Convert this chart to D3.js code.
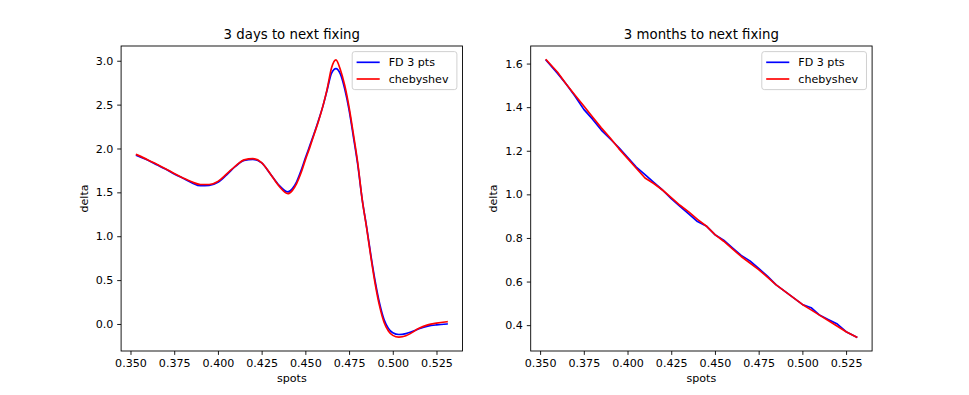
<!DOCTYPE html>
<html>
<head>
<meta charset="utf-8">
<script src="https://cdn.jsdelivr.net/npm/d3@7"></script>
<style>
  body { margin: 0; background: #fff; }
  svg { display: block; font-family: "DejaVu Sans", sans-serif; }
</style>
</head>
<body>
<svg id="chart" width="969" height="395"></svg>
<script>
// spots / delta
var spotsLeft = [0.3535, 0.36, 0.365, 0.37, 0.375, 0.38, 0.385, 0.39, 0.395, 0.40, 0.405, 0.41, 0.415, 0.42, 0.425, 0.43, 0.435, 0.44, 0.4425, 0.445, 0.4475, 0.45, 0.4525, 0.455, 0.4575, 0.46, 0.4625, 0.465, 0.4675, 0.47, 0.4725, 0.475, 0.4775, 0.48, 0.4825, 0.485, 0.4875, 0.49, 0.4925, 0.495, 0.4975, 0.50, 0.5035, 0.5075, 0.51, 0.515, 0.52, 0.525, 0.531];
var fdLeft = [1.92, 1.865, 1.815, 1.765, 1.71, 1.66, 1.61, 1.575, 1.58, 1.615, 1.70, 1.795, 1.865, 1.875, 1.835, 1.71, 1.58, 1.505, 1.54, 1.62, 1.745, 1.89, 2.03, 2.17, 2.32, 2.48, 2.67, 2.86, 2.91, 2.85, 2.68, 2.44, 2.13, 1.81, 1.42, 1.11, 0.78, 0.48, 0.23, 0.05, -0.05, -0.10, -0.12, -0.11, -0.095, -0.055, -0.025, -0.01, 0.0];
var chebLeft = [1.93, 1.87, 1.82, 1.77, 1.715, 1.665, 1.62, 1.59, 1.59, 1.625, 1.71, 1.80, 1.87, 1.885, 1.84, 1.71, 1.57, 1.485, 1.52, 1.60, 1.72, 1.87, 2.01, 2.16, 2.31, 2.48, 2.68, 2.92, 3.01, 2.90, 2.72, 2.47, 2.16, 1.83, 1.42, 1.10, 0.76, 0.45, 0.20, 0.02, -0.08, -0.13, -0.15, -0.135, -0.11, -0.05, -0.01, 0.01, 0.025];

var spotsRight = [0.3535, 0.36, 0.365, 0.37, 0.375, 0.38, 0.385, 0.39, 0.395, 0.40, 0.405, 0.41, 0.415, 0.42, 0.425, 0.43, 0.435, 0.44, 0.445, 0.45, 0.455, 0.46, 0.465, 0.47, 0.475, 0.48, 0.485, 0.49, 0.495, 0.50, 0.505, 0.51, 0.515, 0.52, 0.525, 0.531];
var fdRight = [1.615, 1.555, 1.505, 1.45, 1.39, 1.345, 1.295, 1.255, 1.215, 1.17, 1.125, 1.09, 1.055, 1.02, 0.98, 0.945, 0.91, 0.875, 0.855, 0.815, 0.79, 0.755, 0.72, 0.695, 0.66, 0.625, 0.585, 0.555, 0.525, 0.495, 0.48, 0.445, 0.425, 0.405, 0.37, 0.345];
var chebRight = [1.617, 1.56, 1.505, 1.455, 1.405, 1.355, 1.305, 1.26, 1.21, 1.165, 1.12, 1.075, 1.05, 1.02, 0.985, 0.95, 0.92, 0.885, 0.855, 0.815, 0.785, 0.75, 0.715, 0.685, 0.655, 0.62, 0.585, 0.555, 0.525, 0.495, 0.47, 0.445, 0.42, 0.395, 0.37, 0.345];

var xTicks = [0.350, 0.375, 0.400, 0.425, 0.450, 0.475, 0.500, 0.525];
var yTicksLeft = [0.0, 0.5, 1.0, 1.5, 2.0, 2.5, 3.0];
var yTicksRight = [0.4, 0.6, 0.8, 1.0, 1.2, 1.4, 1.6];
var seriesNames = ["FD 3 pts", "chebyshev"];
var seriesColors = ["#0000ff", "#ff0000"];

var svg = d3.select("#chart");
var plotTop = 46, plotBottom = 351;
var tickLen = 3.9, tickPad = 3.9;
var fs = 11.1;

function pad(ext){
    var m = (ext[1] - ext[0]) * 0.05;
    return [ext[0] - m, ext[1] + m];
}

function panel(cfg){
    var x = d3.scaleLinear().domain(pad(d3.extent(cfg.spots))).range([cfg.left, cfg.right]);
    var yExt = d3.extent(cfg.fd.concat(cfg.cheb));
    var y = d3.scaleLinear().domain(pad(yExt)).range([plotBottom, plotTop]);
    var g = svg.append("g");

    // lines
    var line = d3.line()
        .x(d => x(d[0]))
        .y(d => y(d[1]))
        .curve(cfg.curve);
    [cfg.fd, cfg.cheb].forEach((vals, i) => {
        g.append("path")
            .datum(cfg.spots.map((s, j) => [s, vals[j]]))
            .attr("d", line)
            .attr("fill", "none")
            .attr("stroke", seriesColors[i])
            .attr("stroke-width", 1.67)
            .attr("stroke-linejoin", "round")
            .attr("stroke-linecap", "square");
    });

    // axes
    var xAxis = g.append("g")
        .attr("transform", `translate(0,${plotBottom})`)
        .call(d3.axisBottom(x).tickValues(xTicks).tickFormat(d3.format(".3f")).tickSize(tickLen).tickPadding(tickPad));
    var yAxis = g.append("g")
        .attr("transform", `translate(${cfg.left},0)`)
        .call(d3.axisLeft(y).tickValues(cfg.yTicks).tickFormat(d3.format(".1f")).tickSize(tickLen).tickPadding(tickPad));
    [xAxis, yAxis].forEach(a => {
        a.select(".domain").remove();
        a.attr("font-family", "DejaVu Sans").attr("font-size", fs);
        a.selectAll("line").attr("stroke", "#000").attr("stroke-width", 0.9);
        a.selectAll("text").attr("fill", "#000");
    });

    // frame
    g.append("rect")
        .attr("x", cfg.left).attr("y", plotTop)
        .attr("width", cfg.right - cfg.left).attr("height", plotBottom - plotTop)
        .attr("fill", "none").attr("stroke", "#000").attr("stroke-width", 0.9);

    // title and labels
    g.append("text")
        .attr("x", (cfg.left + cfg.right) / 2).attr("y", plotTop - 6.7)
        .attr("text-anchor", "middle").attr("font-size", 13.3)
        .text(cfg.title);
    g.append("text")
        .attr("x", (cfg.left + cfg.right) / 2).attr("y", 382)
        .attr("text-anchor", "middle").attr("font-size", fs)
        .text("spots");
    g.append("text")
        .attr("transform", `translate(${cfg.left - 33.5},${(plotTop + plotBottom) / 2}) rotate(-90)`)
        .attr("text-anchor", "middle").attr("font-size", fs)
        .text("delta");

    // legend
    var lx = cfg.right - 5.6 - 104.7, ly = plotTop + 5.6;
    var leg = g.append("g").attr("transform", `translate(${lx},${ly})`);
    leg.append("rect")
        .attr("width", 104.7).attr("height", 38)
        .attr("rx", 2.5)
        .attr("fill", "#fff").attr("fill-opacity", 0.8)
        .attr("stroke", "#cccccc").attr("stroke-width", 0.9);
    seriesNames.forEach((name, i) => {
        var cy = 10.7 + i * 16.7;
        leg.append("line")
            .attr("x1", 4.4).attr("x2", 27.5)
            .attr("y1", cy).attr("y2", cy)
            .attr("stroke", seriesColors[i]).attr("stroke-width", 1.67);
        leg.append("text")
            .attr("x", 36.5).attr("y", cy + 4)
            .attr("font-size", fs)
            .text(name);
    });
}

panel({left: 121.1, right: 462.5, spots: spotsLeft, fd: fdLeft, cheb: chebLeft,
       yTicks: yTicksLeft, title: "3 days to next fixing", curve: d3.curveMonotoneX});
panel({left: 530.7, right: 872.1, spots: spotsRight, fd: fdRight, cheb: chebRight,
       yTicks: yTicksRight, title: "3 months to next fixing", curve: d3.curveLinear});
</script>
</body>
</html>
